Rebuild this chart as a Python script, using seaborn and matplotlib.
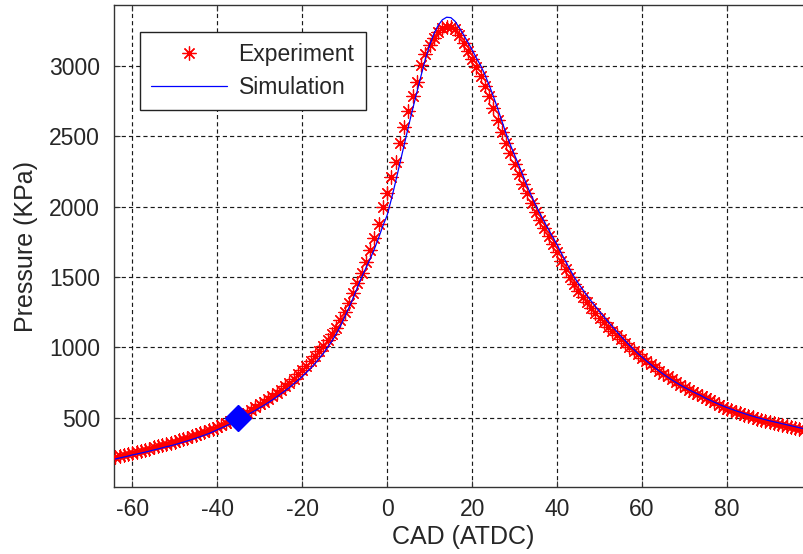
import numpy as np
import pandas as pd
import matplotlib
matplotlib.use("Agg")
import matplotlib.pyplot as plt
from matplotlib.lines import Line2D
import seaborn as sns

# ---------------- data ----------------
cad = list(range(-64, 99))  # crank angle degrees, 1-degree sampling

experiment = [
    218, 225, 233, 241, 250, 257, 264, 272, 280, 288,
    296, 304, 312, 320, 329, 338, 348, 357, 367, 378,
    389, 400, 411, 423, 436, 449, 462, 476, 490, 505,
    520, 536, 553, 573, 595, 614, 634, 655, 677, 700,
    724, 750, 778, 808, 840, 870, 902, 936, 972, 1010,
    1052, 1095, 1140, 1195, 1255, 1318, 1385, 1455, 1530, 1605,
    1690, 1780, 1880, 1995, 2100, 2210, 2320, 2450, 2570, 2680,
    2785, 2890, 3010, 3090, 3150, 3200, 3240, 3268, 3282, 3280,
    3262, 3222, 3165, 3105, 3050, 2995, 2930, 2860, 2785, 2705,
    2620, 2535, 2455, 2380, 2305, 2235, 2165, 2095, 2030, 1965,
    1905, 1848, 1790, 1732, 1675, 1615, 1555, 1497, 1448, 1402,
    1360, 1320, 1282, 1246, 1212, 1180, 1148, 1117, 1087, 1058,
    1030, 1003, 977, 952, 927, 903, 880, 857, 835, 814,
    793, 773, 754, 735, 717, 700, 684, 668, 653, 638,
    623, 608, 593, 578, 564, 553, 541, 531, 521, 511,
    502, 494, 486, 478, 470, 463, 456, 449, 442, 435,
    428, 421, 415,
]

simulation = [
    206, 213, 220, 227, 235, 241, 248, 255, 262, 270,
    277, 285, 293, 300, 308, 317, 326, 335, 345, 355,
    365, 376, 387, 400, 414, 427, 441, 455, 470, 488,
    503, 519, 535, 552, 570, 588, 607, 627, 648, 670,
    692, 715, 740, 766, 793, 822, 852, 885, 920, 958,
    1000, 1045, 1095, 1152, 1215, 1282, 1352, 1425, 1500, 1565,
    1630, 1700, 1780, 1865, 1940, 2055, 2180, 2310, 2440, 2570,
    2695, 2815, 2935, 3050, 3150, 3230, 3290, 3330, 3348, 3345,
    3318, 3272, 3222, 3170, 3115, 3058, 3005, 2940, 2865, 2785,
    2700, 2610, 2520, 2440, 2368, 2295, 2220, 2145, 2075, 2010,
    1950, 1893, 1837, 1783, 1730, 1670, 1612, 1556, 1502, 1455,
    1412, 1370, 1330, 1292, 1255, 1218, 1182, 1148, 1114, 1080,
    1048, 1016, 986, 957, 930, 904, 879, 855, 832, 810,
    789, 769, 750, 732, 715, 699, 684, 669, 655, 638,
    624, 610, 597, 584, 572, 561, 550, 540, 530, 520,
    511, 502, 494, 486, 478, 471, 464, 457, 450, 443,
    436, 429, 422,
]

marker_cad = [-35]
marker_pressure = [500]

x_ticks = [-60, -40, -20, 0, 20, 40, 60, 80]
y_ticks = [500, 1000, 1500, 2000, 2500, 3000]
series_labels = ["Experiment", "Simulation"]
x_label = "CAD (ATDC)"
y_label = "Pressure (KPa)"

df = pd.DataFrame({"cad": cad, "exp": experiment, "sim": simulation})

# ---------------- style ----------------
sns.set_theme(style="white")
plt.rcParams["font.family"] = ["Liberation Sans", "DejaVu Sans"]
plt.rcParams["lines.scale_dashes"] = False

text_color = "#262626"
fs = 16.5
fs_label = 18

fig = plt.figure(figsize=(8.04, 5.54), dpi=100)
W, H = 804, 554
ax_l, ax_r, ax_t, ax_b = 114, 812, 5, 487
ax = fig.add_axes([ax_l / W, (H - ax_b) / H, (ax_r - ax_l) / W, (ax_b - ax_t) / H])

asterisk = (8, 2, 0)

sns.scatterplot(data=df, x="cad", y="exp", ax=ax, marker=asterisk, s=90,
                color="red", edgecolor="red", linewidth=0.9, zorder=3, legend=False)
sns.lineplot(data=df, x="cad", y="sim", ax=ax, color="#0000ff", linewidth=0.9,
             zorder=4, legend=False)
ax.plot(marker_cad, marker_pressure, linestyle="none", marker="D", ms=13.5,
        color="#0000ff", mec="#0000ff", zorder=5)

ax.set_xlim(-64.3, 100)
ax.set_ylim(7, 3435)
ax.set_xticks(x_ticks)
ax.set_yticks(y_ticks)
ax.set_xticklabels([str(v) for v in x_ticks])
ax.set_yticklabels([str(v) for v in y_ticks])

ax.grid(True, color="#1a1a1a", linestyle=(0, (3.0, 2.2)), linewidth=0.85)
ax.set_axisbelow(True)

for side in ["left", "bottom", "top", "right"]:
    ax.spines[side].set_visible(True)
    ax.spines[side].set_color("#333333")
    ax.spines[side].set_linewidth(1.0)

ax.tick_params(axis="both", which="major", direction="in", length=4, width=0.8,
               color="#333333", labelsize=fs, labelcolor=text_color,
               top=True, right=True, bottom=True, left=True)
ax.tick_params(axis="x", pad=8)
ax.tick_params(axis="y", pad=10)

ax.set_xlabel(x_label, fontsize=fs_label, color=text_color, labelpad=3)
ax.set_ylabel(y_label, fontsize=fs_label, color=text_color, labelpad=8)

handles = [
    Line2D([], [], color="red", marker=asterisk, linestyle="none", ms=10, mew=0.9),
    Line2D([], [], color="#0000ff", linewidth=0.9),
]
leg = ax.legend(handles, series_labels, loc="upper left",
                bbox_to_anchor=((140 - ax_l) / (ax_r - ax_l), (ax_b - 32) / (ax_b - ax_t)),
                borderaxespad=0, fontsize=fs, handlelength=3.3, handletextpad=0.5,
                labelspacing=0.4, borderpad=0.5, fancybox=False, framealpha=1,
                edgecolor="#222222")
leg.get_frame().set_linewidth(1.0)
for t in leg.get_texts():
    t.set_color(text_color)

fig.savefig("out.png", dpi=100)
